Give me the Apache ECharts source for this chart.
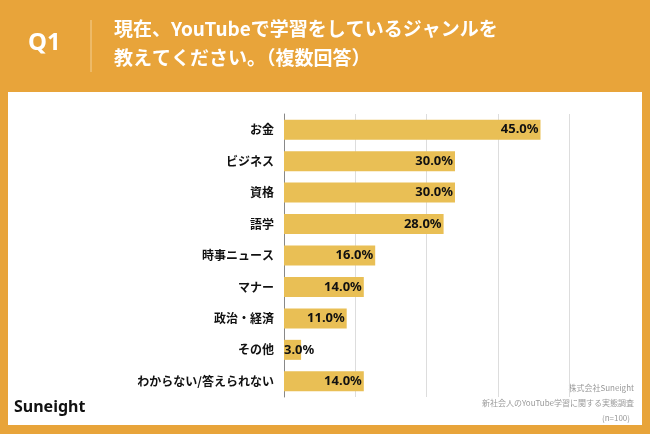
<!DOCTYPE html>
<html><head><meta charset="utf-8">
<script src="https://cdn.jsdelivr.net/npm/echarts@6/dist/echarts.min.js"></script>
<style>html,body{margin:0;padding:0;background:#E8A43A;}#c{width:650px;height:434px;}</style>
</head><body><div id="c"></div>
<script>
const categories = ['お金','ビジネス','資格','語学','時事ニュース','マナー','政治・経済','その他','わからない/答えられない'];
const values = [45.0,30.0,30.0,28.0,16.0,14.0,11.0,3.0,14.0];
const F = '"Noto Sans CJK JP", sans-serif';
const chart = echarts.init(document.getElementById('c'));
chart.setOption({
  backgroundColor: '#E8A43A',
  graphic: [
    {type:'rect', shape:{x:8,y:92,width:634,height:333}, style:{fill:'#fff'}},
    {type:'line', shape:{x1:91,y1:20,x2:91,y2:72}, style:{stroke:'#F3CF93',lineWidth:1}},
    {type:'text', left:28, top:31, style:{text:'Q1', fill:'#fff', font:'bold 24px "Noto Sans", sans-serif'}},
    {type:'text', left:114, top:14, style:{text:'現在、YouTubeで学習をしているジャンルを\n教えてください。（複数回答）', fill:'#fff', font:'bold 19px '+F, lineHeight:29}},
    {type:'text', left:14, top:399, style:{text:'Suneight', fill:'#111', font:'bold 16px "Noto Sans", sans-serif'}},
    {type:'text', style:{x:634, y:384, text:'株式会社Suneight', fill:'#999', font:'8px '+F, textAlign:'right'}},
    {type:'text', style:{x:634, y:399, text:'新社会人のYouTube学習に関する実態調査', fill:'#999', font:'8px '+F, textAlign:'right'}},
    {type:'text', style:{x:630, y:414, text:'(n=100)', fill:'#999', font:'8px '+F, textAlign:'right'}}
  ],
  grid: {left:284, right:81, top:114, bottom:37, containLabel:false},
  xAxis: {type:'value', min:0, max:50, interval:12.5, axisLabel:{show:false},
    splitLine:{lineStyle:{color:'#ddd'}}, axisLine:{show:false}, axisTick:{show:false}},
  yAxis: {type:'category', inverse:true, data:categories,
    axisLine:{lineStyle:{color:'#888'}}, axisTick:{show:false},
    axisLabel:{color:'#111', fontFamily:F, fontWeight:'bold', fontSize:12, margin:10}},
  series: [{type:'bar', data:values.map(v => v < 5 ? {value:v, label:{position:'insideLeft', distance:0}} : v),
    barWidth:20, itemStyle:{color:'#E9BF55'},
    label:{show:true, position:'insideRight', distance:2, formatter:p=>p.value.toFixed(1)+'%',
      color:'#111', fontFamily:'"Noto Sans", sans-serif', fontWeight:'bold', fontSize:13}}]
});
</script></body></html>
